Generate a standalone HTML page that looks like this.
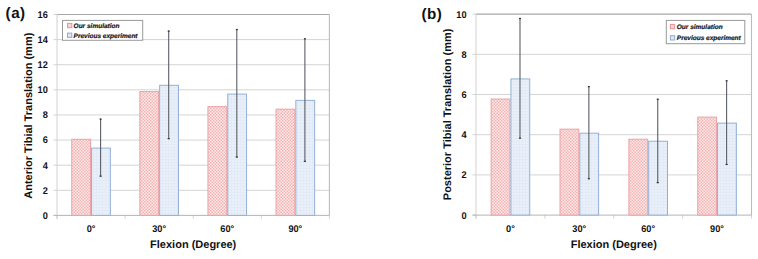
<!DOCTYPE html>
<html><head><meta charset="utf-8"><style>
html,body{margin:0;padding:0;background:#fff;}
body{width:758px;height:259px;overflow:hidden;}
svg{display:block;}
text{font-family:"Liberation Sans", sans-serif;fill:#111;text-rendering:geometricPrecision;}
.tl{font-size:9.7px;font-weight:bold;}
.tt{font-size:11px;font-weight:bold;}
.lg{font-size:6.5px;font-weight:bold;font-style:italic;stroke:#222;stroke-width:0.2px;}
.tg{font-size:15.2px;font-weight:bold;letter-spacing:0.5px;}
</style></head><body>
<svg width="758" height="259" viewBox="0 0 758 259">
<defs>
<pattern id="pr" width="3" height="3" patternUnits="userSpaceOnUse">
<rect width="3" height="3" fill="#fde8e8"/>
<rect x="0" y="0" width="1.5" height="1.5" fill="#f2b6b6"/>
<rect x="1.5" y="1.5" width="1.5" height="1.5" fill="#f2b6b6"/>
</pattern>
<pattern id="pb" width="3" height="3" patternUnits="userSpaceOnUse">
<rect width="3" height="3" fill="#e9f0fa"/>
<rect x="0" y="0" width="3" height="0.6" fill="#dfe8f4"/>
<rect x="0" y="0" width="0.6" height="3" fill="#dfe8f4"/>
</pattern>
</defs>
<rect width="758" height="259" fill="#fff"/>
<line x1="53.5" y1="215.40" x2="57.0" y2="215.40" stroke="#d4d4d4" stroke-width="1"/>
<text transform="translate(47.8,218.80) scale(0.95,1)" text-anchor="end" class="tl">0</text>
<line x1="53.5" y1="190.29" x2="329.4" y2="190.29" stroke="#d4d4d4" stroke-width="1"/>
<text transform="translate(47.8,193.69) scale(0.95,1)" text-anchor="end" class="tl">2</text>
<line x1="53.5" y1="165.18" x2="329.4" y2="165.18" stroke="#d4d4d4" stroke-width="1"/>
<text transform="translate(47.8,168.58) scale(0.95,1)" text-anchor="end" class="tl">4</text>
<line x1="53.5" y1="140.06" x2="329.4" y2="140.06" stroke="#d4d4d4" stroke-width="1"/>
<text transform="translate(47.8,143.46) scale(0.95,1)" text-anchor="end" class="tl">6</text>
<line x1="53.5" y1="114.95" x2="329.4" y2="114.95" stroke="#d4d4d4" stroke-width="1"/>
<text transform="translate(47.8,118.35) scale(0.95,1)" text-anchor="end" class="tl">8</text>
<line x1="53.5" y1="89.84" x2="329.4" y2="89.84" stroke="#d4d4d4" stroke-width="1"/>
<text transform="translate(47.8,93.24) scale(0.95,1)" text-anchor="end" class="tl">10</text>
<line x1="53.5" y1="64.72" x2="329.4" y2="64.72" stroke="#d4d4d4" stroke-width="1"/>
<text transform="translate(47.8,68.12) scale(0.95,1)" text-anchor="end" class="tl">12</text>
<line x1="53.5" y1="39.61" x2="329.4" y2="39.61" stroke="#d4d4d4" stroke-width="1"/>
<text transform="translate(47.8,43.01) scale(0.95,1)" text-anchor="end" class="tl">14</text>
<line x1="53.5" y1="14.50" x2="57.0" y2="14.50" stroke="#d4d4d4" stroke-width="1"/>
<text transform="translate(47.8,17.90) scale(0.95,1)" text-anchor="end" class="tl">16</text>
<line x1="57.00" y1="215.4" x2="57.00" y2="218.9" stroke="#d4d4d4" stroke-width="1"/>
<line x1="125.10" y1="215.4" x2="125.10" y2="218.9" stroke="#d4d4d4" stroke-width="1"/>
<line x1="193.20" y1="215.4" x2="193.20" y2="218.9" stroke="#d4d4d4" stroke-width="1"/>
<line x1="261.30" y1="215.4" x2="261.30" y2="218.9" stroke="#d4d4d4" stroke-width="1"/>
<line x1="329.40" y1="215.4" x2="329.40" y2="218.9" stroke="#d4d4d4" stroke-width="1"/>
<line x1="57.0" y1="14.5" x2="329.4" y2="14.5" stroke="#a8a8a8" stroke-width="1.2"/>
<line x1="329.4" y1="14.5" x2="329.4" y2="215.4" stroke="#bcbcbc" stroke-width="1.1"/>
<line x1="57.0" y1="14.5" x2="57.0" y2="218.9" stroke="#d2d2d2" stroke-width="1"/>
<line x1="53.5" y1="215.4" x2="329.4" y2="215.4" stroke="#b4b4b4" stroke-width="1"/>
<rect x="71.75" y="139.31" width="18.80" height="76.09" fill="url(#pr)" stroke="#eba2a6" stroke-width="1"/>
<rect x="91.55" y="148.10" width="18.80" height="67.30" fill="url(#pb)" stroke="#93b0d6" stroke-width="1"/>
<line x1="100.60" y1="118.59" x2="100.60" y2="176.73" stroke="#5a5f66" stroke-width="1.1"/>
<line x1="99.60" y1="119.19" x2="101.60" y2="119.19" stroke="#3a3a3a" stroke-width="1.3"/>
<line x1="99.50" y1="176.13" x2="101.70" y2="176.13" stroke="#3a3a3a" stroke-width="1.2"/>
<text transform="translate(91.05,232) scale(0.95,1)" text-anchor="middle" class="tl">0°</text>
<rect x="139.85" y="91.59" width="18.80" height="123.81" fill="url(#pr)" stroke="#eba2a6" stroke-width="1"/>
<rect x="159.65" y="85.31" width="18.80" height="130.09" fill="url(#pb)" stroke="#93b0d6" stroke-width="1"/>
<line x1="168.70" y1="30.57" x2="168.70" y2="139.18" stroke="#5a5f66" stroke-width="1.1"/>
<line x1="167.70" y1="31.17" x2="169.70" y2="31.17" stroke="#3a3a3a" stroke-width="1.3"/>
<line x1="167.60" y1="138.58" x2="169.80" y2="138.58" stroke="#3a3a3a" stroke-width="1.2"/>
<text transform="translate(159.15,232) scale(0.95,1)" text-anchor="middle" class="tl">30°</text>
<rect x="207.95" y="106.66" width="18.80" height="108.74" fill="url(#pr)" stroke="#eba2a6" stroke-width="1"/>
<rect x="227.75" y="94.10" width="18.80" height="121.30" fill="url(#pb)" stroke="#93b0d6" stroke-width="1"/>
<line x1="236.80" y1="28.94" x2="236.80" y2="157.64" stroke="#5a5f66" stroke-width="1.1"/>
<line x1="235.80" y1="29.54" x2="237.80" y2="29.54" stroke="#3a3a3a" stroke-width="1.3"/>
<line x1="235.70" y1="157.04" x2="237.90" y2="157.04" stroke="#3a3a3a" stroke-width="1.2"/>
<text transform="translate(227.25,232) scale(0.95,1)" text-anchor="middle" class="tl">60°</text>
<rect x="276.05" y="109.17" width="18.80" height="106.23" fill="url(#pr)" stroke="#eba2a6" stroke-width="1"/>
<rect x="295.85" y="100.38" width="18.80" height="115.02" fill="url(#pb)" stroke="#93b0d6" stroke-width="1"/>
<line x1="304.90" y1="38.23" x2="304.90" y2="161.91" stroke="#5a5f66" stroke-width="1.1"/>
<line x1="303.90" y1="38.83" x2="305.90" y2="38.83" stroke="#3a3a3a" stroke-width="1.3"/>
<line x1="303.80" y1="161.31" x2="306.00" y2="161.31" stroke="#3a3a3a" stroke-width="1.2"/>
<text transform="translate(295.35,232) scale(0.95,1)" text-anchor="middle" class="tl">90°</text>
<rect x="62.5" y="20.4" width="80.2" height="19.9" fill="#fff" stroke="#999" stroke-width="1"/>
<rect x="67.5" y="23.400000000000002" width="4.3" height="4.3" fill="#f8d3d3" stroke="#e9959c" stroke-width="1"/>
<text x="73.6" y="27.8" class="lg">Our simulation</text>
<rect x="67.5" y="33.1" width="4.3" height="4.3" fill="#dbe7f5" stroke="#8eabd2" stroke-width="1"/>
<text x="73.6" y="37.6" class="lg">Previous experiment</text>
<text transform="translate(32.2,115.7) rotate(-90)" text-anchor="middle" class="tt">Anterior Tibial Translation (mm)</text>
<text x="193.20" y="248.4" text-anchor="middle" class="tt">Flexion (Degree)</text>
<text x="5.6" y="18.2" class="tg">(a)</text>
<line x1="472.5" y1="215.10" x2="476.0" y2="215.10" stroke="#d4d4d4" stroke-width="1"/>
<text transform="translate(466.5,218.50) scale(0.95,1)" text-anchor="end" class="tl">0</text>
<line x1="472.5" y1="174.90" x2="751.5" y2="174.90" stroke="#d4d4d4" stroke-width="1"/>
<text transform="translate(466.5,178.30) scale(0.95,1)" text-anchor="end" class="tl">2</text>
<line x1="472.5" y1="134.70" x2="751.5" y2="134.70" stroke="#d4d4d4" stroke-width="1"/>
<text transform="translate(466.5,138.10) scale(0.95,1)" text-anchor="end" class="tl">4</text>
<line x1="472.5" y1="94.50" x2="751.5" y2="94.50" stroke="#d4d4d4" stroke-width="1"/>
<text transform="translate(466.5,97.90) scale(0.95,1)" text-anchor="end" class="tl">6</text>
<line x1="472.5" y1="54.30" x2="751.5" y2="54.30" stroke="#d4d4d4" stroke-width="1"/>
<text transform="translate(466.5,57.70) scale(0.95,1)" text-anchor="end" class="tl">8</text>
<line x1="472.5" y1="14.10" x2="476.0" y2="14.10" stroke="#d4d4d4" stroke-width="1"/>
<text transform="translate(466.5,17.50) scale(0.95,1)" text-anchor="end" class="tl">10</text>
<line x1="476.00" y1="215.1" x2="476.00" y2="218.6" stroke="#d4d4d4" stroke-width="1"/>
<line x1="544.88" y1="215.1" x2="544.88" y2="218.6" stroke="#d4d4d4" stroke-width="1"/>
<line x1="613.75" y1="215.1" x2="613.75" y2="218.6" stroke="#d4d4d4" stroke-width="1"/>
<line x1="682.62" y1="215.1" x2="682.62" y2="218.6" stroke="#d4d4d4" stroke-width="1"/>
<line x1="751.50" y1="215.1" x2="751.50" y2="218.6" stroke="#d4d4d4" stroke-width="1"/>
<line x1="476.0" y1="14.1" x2="751.5" y2="14.1" stroke="#a8a8a8" stroke-width="1.2"/>
<line x1="751.5" y1="14.1" x2="751.5" y2="215.1" stroke="#bcbcbc" stroke-width="1.1"/>
<line x1="476.0" y1="14.1" x2="476.0" y2="218.6" stroke="#d2d2d2" stroke-width="1"/>
<line x1="472.5" y1="215.1" x2="751.5" y2="215.1" stroke="#b4b4b4" stroke-width="1"/>
<rect x="491.14" y="99.02" width="18.80" height="116.08" fill="url(#pr)" stroke="#eba2a6" stroke-width="1"/>
<rect x="510.94" y="78.92" width="18.80" height="136.18" fill="url(#pb)" stroke="#93b0d6" stroke-width="1"/>
<line x1="519.99" y1="17.92" x2="519.99" y2="138.72" stroke="#5a5f66" stroke-width="1.1"/>
<line x1="518.99" y1="18.52" x2="520.99" y2="18.52" stroke="#3a3a3a" stroke-width="1.3"/>
<line x1="518.89" y1="138.12" x2="521.09" y2="138.12" stroke="#3a3a3a" stroke-width="1.2"/>
<text transform="translate(510.44,232) scale(0.95,1)" text-anchor="middle" class="tl">0°</text>
<rect x="560.01" y="129.17" width="18.80" height="85.93" fill="url(#pr)" stroke="#eba2a6" stroke-width="1"/>
<rect x="579.81" y="133.19" width="18.80" height="81.91" fill="url(#pb)" stroke="#93b0d6" stroke-width="1"/>
<line x1="588.86" y1="86.06" x2="588.86" y2="179.32" stroke="#5a5f66" stroke-width="1.1"/>
<line x1="587.86" y1="86.66" x2="589.86" y2="86.66" stroke="#3a3a3a" stroke-width="1.3"/>
<line x1="587.76" y1="178.72" x2="589.96" y2="178.72" stroke="#3a3a3a" stroke-width="1.2"/>
<text transform="translate(579.31,232) scale(0.95,1)" text-anchor="middle" class="tl">30°</text>
<rect x="628.89" y="139.22" width="18.80" height="75.88" fill="url(#pr)" stroke="#eba2a6" stroke-width="1"/>
<rect x="648.69" y="141.23" width="18.80" height="73.87" fill="url(#pb)" stroke="#93b0d6" stroke-width="1"/>
<line x1="657.74" y1="98.72" x2="657.74" y2="183.14" stroke="#5a5f66" stroke-width="1.1"/>
<line x1="656.74" y1="99.32" x2="658.74" y2="99.32" stroke="#3a3a3a" stroke-width="1.3"/>
<line x1="656.64" y1="182.54" x2="658.84" y2="182.54" stroke="#3a3a3a" stroke-width="1.2"/>
<text transform="translate(648.19,232) scale(0.95,1)" text-anchor="middle" class="tl">60°</text>
<rect x="697.76" y="117.11" width="18.80" height="97.99" fill="url(#pr)" stroke="#eba2a6" stroke-width="1"/>
<rect x="717.56" y="123.14" width="18.80" height="91.96" fill="url(#pb)" stroke="#93b0d6" stroke-width="1"/>
<line x1="726.61" y1="80.23" x2="726.61" y2="165.05" stroke="#5a5f66" stroke-width="1.1"/>
<line x1="725.61" y1="80.83" x2="727.61" y2="80.83" stroke="#3a3a3a" stroke-width="1.3"/>
<line x1="725.51" y1="164.45" x2="727.71" y2="164.45" stroke="#3a3a3a" stroke-width="1.2"/>
<text transform="translate(717.06,232) scale(0.95,1)" text-anchor="middle" class="tl">90°</text>
<rect x="666.3" y="20.4" width="78.5" height="23.3" fill="#fff" stroke="#999" stroke-width="1"/>
<rect x="670.4" y="24.400000000000002" width="4.3" height="4.3" fill="#f8d3d3" stroke="#e9959c" stroke-width="1"/>
<text x="676.8" y="28.8" class="lg">Our simulation</text>
<rect x="670.4" y="35.7" width="4.3" height="4.3" fill="#dbe7f5" stroke="#8eabd2" stroke-width="1"/>
<text x="676.8" y="40.2" class="lg">Previous experiment</text>
<text transform="translate(451.1,114.4) rotate(-90)" text-anchor="middle" class="tt">Posterior Tibial Translation (mm)</text>
<text x="613.75" y="248.3" text-anchor="middle" class="tt">Flexion (Degree)</text>
<text x="421.4" y="19.4" class="tg">(b)</text>
</svg>
</body></html>
